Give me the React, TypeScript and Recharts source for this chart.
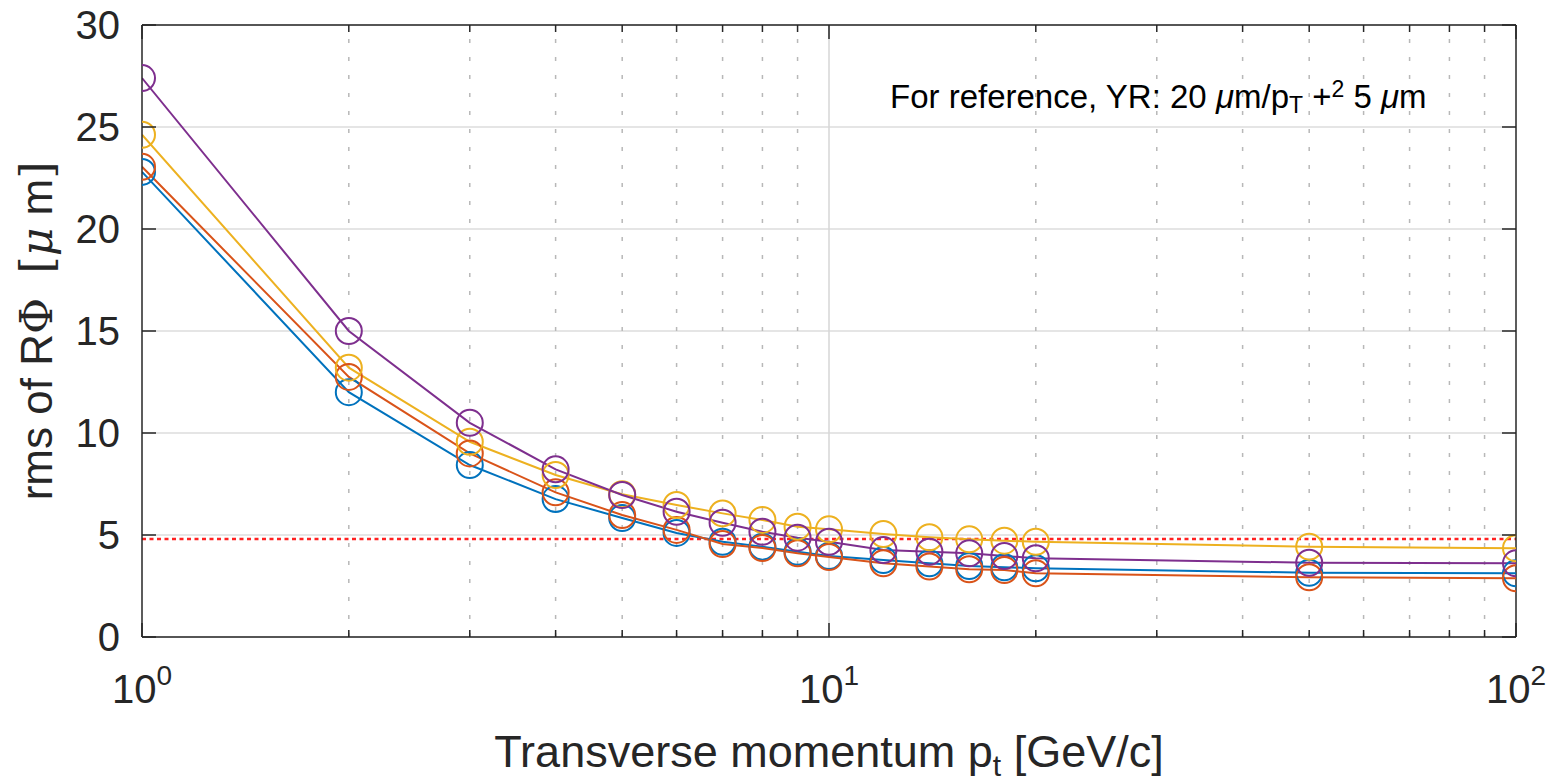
import React from "react";
import { LineChart, Line, XAxis, YAxis, CartesianGrid, ReferenceLine } from "recharts";

// ---- data ----
const pt = [1, 2, 3, 4, 5, 6, 7, 8, 9, 10, 12, 14, 16, 18, 20, 50, 100];
const seriesBlue = [22.8, 12.0, 8.43, 6.76, 5.83, 5.1, 4.67, 4.43, 4.18, 3.97, 3.77, 3.61, 3.48, 3.42, 3.37, 3.15, 3.12];
const seriesOrange = [23.05, 12.75, 9.0, 7.09, 5.98, 5.25, 4.56, 4.36, 4.1, 3.92, 3.61, 3.45, 3.32, 3.28, 3.12, 2.93, 2.88];
const seriesYellow = [24.62, 13.2, 9.57, 7.94, 7.0, 6.47, 6.06, 5.74, 5.41, 5.28, 5.05, 4.89, 4.79, 4.72, 4.67, 4.43, 4.35];
const seriesPurple = [27.4, 15.0, 10.5, 8.22, 6.96, 6.14, 5.6, 5.16, 4.87, 4.67, 4.26, 4.18, 4.1, 3.97, 3.86, 3.64, 3.61];
const referenceLevel = 4.8;

const xTicks = [1, 2, 3, 4, 5, 6, 7, 8, 9, 10, 20, 30, 40, 50, 60, 70, 80, 90, 100];
const xMajor = [1, 10, 100];
const xMinorGrid = [2, 3, 4, 5, 6, 7, 8, 9, 20, 30, 40, 50, 60, 70, 80, 90];
const yTicks = [0, 5, 10, 15, 20, 25, 30];

const data = pt.map((p, i) => ({
  pt: p,
  blue: seriesBlue[i],
  orange: seriesOrange[i],
  yellow: seriesYellow[i],
  purple: seriesPurple[i],
}));

// ---- style ----
const FONT = "'Liberation Sans', Arial, Helvetica, sans-serif";
const AX = "#262626";
const PLOT_W = 1374;
const PLOT_H = 612;
const C_BLUE = "#0072BD";
const C_ORANGE = "#D95319";
const C_YELLOW = "#EDB120";
const C_PURPLE = "#7E2F8E";

const XTick = (props: any) => {
  const { x, y, payload } = props;
  const v = payload.value;
  const major = xMajor.includes(v);
  const len = major ? 14 : 7;
  const exp = Math.round(Math.log10(v));
  return (
    <g>
      <line x1={x} x2={x} y1={y} y2={y - len} stroke={AX} strokeWidth={1.5} />
      <line x1={x} x2={x} y1={y - PLOT_H} y2={y - PLOT_H + len} stroke={AX} strokeWidth={1.5} />
      {major && (
        <text x={x} y={y + 66} textAnchor="middle" fontSize={40} fontFamily={FONT} fill={AX}>
          10
          <tspan dy={-18} fontSize={28}>
            {exp}
          </tspan>
        </text>
      )}
    </g>
  );
};

const YTick = (props: any) => {
  const { x, y, payload } = props;
  return (
    <g>
      <line x1={x} x2={x + 14} y1={y} y2={y} stroke={AX} strokeWidth={1.5} />
      <line x1={x + PLOT_W - 14} x2={x + PLOT_W} y1={y} y2={y} stroke={AX} strokeWidth={1.5} />
      <text x={x - 22} y={y + 14} textAnchor="end" fontSize={40} fontFamily={FONT} fill={AX}>
        {payload.value}
      </text>
    </g>
  );
};

const dotStyle = (c: string) => ({ r: 13, stroke: c, strokeWidth: 2, fill: "none" });

export default function App() {
  return (
    <div style={{ position: "absolute", left: 0, top: 0, width: 1552, height: 783, background: "#fff" }}>
      <LineChart
        width={1552}
        height={783}
        data={data}
        margin={{ top: 25, right: 36, bottom: 46, left: 22 }}
      >
        <CartesianGrid vertical={false} stroke="#dcdcdc" strokeWidth={1.5} />
        {xMinorGrid.map((v) => (
          <ReferenceLine key={v} x={v} stroke="#b8b8b8" strokeWidth={1.5} strokeDasharray="4 14" />
        ))}
        <ReferenceLine x={10} stroke="#d6d6d6" strokeWidth={1.5} />
        <ReferenceLine y={referenceLevel} stroke="#ff2020" strokeWidth={2.5} strokeDasharray="4 3.5" />
        <XAxis
          dataKey="pt"
          type="number"
          scale="log"
          domain={[1, 100]}
          ticks={xTicks}
          interval={0}
          height={100}
          tickSize={0}
          tickMargin={0}
          tickLine={false}
          axisLine={{ stroke: AX, strokeWidth: 1.5 }}
          tick={(p: any) => <XTick {...p} />}
          allowDataOverflow
        />
        <YAxis
          type="number"
          domain={[0, 30]}
          ticks={yTicks}
          interval={0}
          width={120}
          tickSize={0}
          tickMargin={0}
          tickLine={false}
          axisLine={{ stroke: AX, strokeWidth: 1.5 }}
          tick={(p: any) => <YTick {...p} />}
        />
        <ReferenceLine y={30} stroke={AX} strokeWidth={1.5} />
        <ReferenceLine x={100} stroke={AX} strokeWidth={1.5} />
        <Line dataKey="blue" stroke={C_BLUE} strokeWidth={2} dot={dotStyle(C_BLUE)} isAnimationActive={false} />
        <Line dataKey="orange" stroke={C_ORANGE} strokeWidth={2} dot={dotStyle(C_ORANGE)} isAnimationActive={false} />
        <Line dataKey="yellow" stroke={C_YELLOW} strokeWidth={2} dot={dotStyle(C_YELLOW)} isAnimationActive={false} />
        <Line dataKey="purple" stroke={C_PURPLE} strokeWidth={2} dot={dotStyle(C_PURPLE)} isAnimationActive={false} />
      </LineChart>
      <svg
        width={1552}
        height={783}
        style={{ position: "absolute", left: 0, top: 0, pointerEvents: "none" }}
        fontFamily={FONT}
        fill={AX}
      >
        <text x={829} y={767} textAnchor="middle" fontSize={45}>
          Transverse momentum p
          <tspan dy={9} fontSize={30}>t</tspan>
          <tspan dy={-9}> [GeV/c]</tspan>
        </text>
        <text
          transform="rotate(-90)"
          x={-331}
          y={52}
          textAnchor="middle"
          fontSize={44}
          style={{ whiteSpace: "pre" }}
        >
          {"rms of R"}
          <tspan fontFamily="'DejaVu Serif', serif">Φ</tspan>
          <tspan>{"  "}</tspan>
          <tspan fontFamily="'DejaVu Serif', serif">[</tspan>
          <tspan fontFamily="'DejaVu Serif', serif" fontStyle="italic">μ</tspan>
          <tspan>{" m"}</tspan>
          <tspan fontFamily="'DejaVu Serif', serif">]</tspan>
        </text>
        <text x={890} y={108} fontSize={33} fill="#000" style={{ whiteSpace: "pre" }}>
          {"For reference, YR: 20 "}
          <tspan fontStyle="italic">μ</tspan>
          {"m/p"}
          <tspan dy={5} fontSize={23}>T</tspan>
          <tspan dy={-5}>{" +"}</tspan>
          <tspan dy={-11} fontSize={23}>2</tspan>
          <tspan dy={11}>{" 5 "}</tspan>
          <tspan fontStyle="italic">μ</tspan>
          {"m"}
        </text>
      </svg>
    </div>
  );
}
